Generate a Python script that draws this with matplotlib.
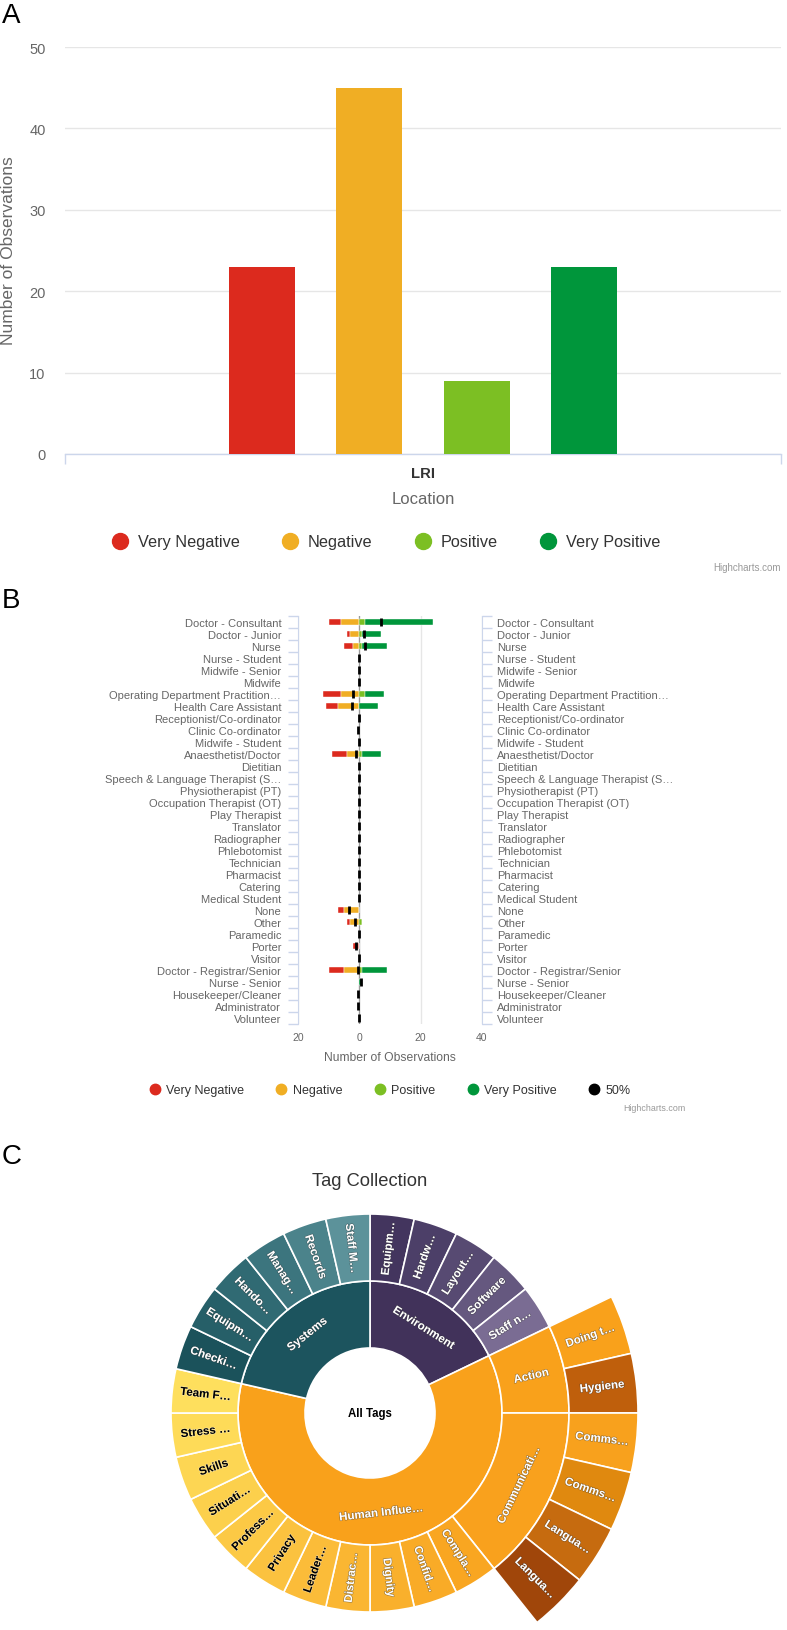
import matplotlib
matplotlib.use('Agg')
import matplotlib.pyplot as plt
import matplotlib.patheffects as pe
from matplotlib.lines import Line2D
import numpy as np

plt.rcParams['font.family'] = ['Liberation Sans', 'DejaVu Sans']

W, H = 787, 1631

# ---------------- Panel A data ----------------
a_categories = ['LRI']
a_series = ['Very Negative', 'Negative', 'Positive', 'Very Positive']
a_values = [23, 45, 9, 23]
a_yticks = [0, 10, 20, 30, 40, 50]

# ---------------- Panel B data ----------------
b_roles = ['Doctor - Consultant', 'Doctor - Junior', 'Nurse', 'Nurse - Student',
           'Midwife - Senior', 'Midwife', 'Operating Department Practition\u2026',
           'Health Care Assistant', 'Receptionist/Co-ordinator', 'Clinic Co-ordinator',
           'Midwife - Student', 'Anaesthetist/Doctor', 'Dietitian',
           'Speech & Language Therapist (S\u2026', 'Physiotherapist (PT)',
           'Occupation Therapist (OT)', 'Play Therapist', 'Translator', 'Radiographer',
           'Phlebotomist', 'Technician', 'Pharmacist', 'Catering', 'Medical Student',
           'None', 'Other', 'Paramedic', 'Porter', 'Visitor', 'Doctor - Registrar/Senior',
           'Nurse - Senior', 'Housekeeper/Cleaner', 'Administrator', 'Volunteer']
b_very_negative = [4, 1, 3, 0, 0, 0, 6, 4, 0, 0, 0, 5, 0, 0, 0, 0, 0, 0, 0, 0, 0, 0, 0, 0,
                   2, 1, 0, 2, 0, 5, 0, 0, 0, 0]
b_negative = [6, 3, 2, 0, 0, 0, 6, 7, 0, 0, 0, 4, 0, 0, 0, 0, 0, 0, 0, 0, 0, 0, 0, 0,
              5, 3, 0, 0, 0, 5, 0, 0, 0, 0]
b_positive = [2, 1, 1, 0, 0, 0, 2, 0, 0, 0, 0, 1, 0, 0, 0, 0, 0, 0, 0, 0, 0, 0, 0, 0,
              0, 1, 0, 0, 0, 1, 0, 0, 0, 0]
b_very_positive = [22, 6, 8, 0, 0, 0, 6, 6, 0, 0, 0, 6, 0, 0, 0, 0, 0, 0, 0, 0, 0, 0, 0, 0,
                   0, 0, 0, 0, 0, 8, 1, 0, 0, 0]
b_median = [7, 1.5, 2, 0, 0, 0, -2, -2.5, 0, -0.5, 0, -1, 0, 0, 0, 0, 0, 0, 0, 0, 0, 0, 0, 0,
            -3.5, -1.5, 0, -1, 0, -0.5, 0.5, -0.5, -0.5, 0]
b_xticks = [-20, 0, 20, 40]
b_xticklabels = ['20', '0', '20', '40']
b_legend = ['Very Negative', 'Negative', 'Positive', 'Very Positive', '50%']

# ---------------- Panel C data ----------------
c_root = 'All Tags'
c_groups = ['Environment', 'Human Influe\u2026', 'Systems']
c_env_leaves = ['Equipm\u2026', 'Hardw\u2026', 'Layout\u2026', 'Software', 'Staff n\u2026']
c_env_values = [1, 1, 1, 1, 1]
c_action_leaves = ['Doing t\u2026', 'Hygiene']
c_action_values = [1, 1]
c_comm_leaves = ['Comms\u2026', 'Comms\u2026', 'Langua\u2026', 'Langua\u2026']
c_comm_values = [1, 1, 1, 1]
c_human_leaves = ['Compla\u2026', 'Confid\u2026', 'Dignity', 'Distrac\u2026', 'Leader\u2026',
                  'Privacy', 'Profess\u2026', 'Situati\u2026', 'Skills', 'Stress \u2026', 'Team F\u2026']
c_human_values = [1, 1, 1, 1, 1, 1, 1, 1, 1, 1, 1]
c_sys_leaves = ['Checki\u2026', 'Equipm\u2026', 'Hando\u2026', 'Manag\u2026', 'Records', 'Staff M\u2026']
c_sys_values = [1, 1, 1, 1, 1, 1]

# ---------------- styles ----------------
series_colors = ['#dc2a1e', '#f0ae24', '#7cbf23', '#00963b']
GRID = '#e6e6e6'
AXIS = '#ccd6eb'
LBL = '#666666'

fig = plt.figure(figsize=(W / 100, H / 100), dpi=100)


def add_axes_px(l, t, r, b):
    return fig.add_axes([l / W, 1 - b / H, (r - l) / W, (b - t) / H])


def ftext(x, y, s, **kw):
    return fig.text(x / W, 1 - y / H, s, **kw)


# ======================= Panel A =======================
axA = add_axes_px(65, 48, 781, 455)
xA = np.arange(len(a_categories))
n = len(a_series)
slot, bw = 0.15, 0.092
for i, (s, v, c) in enumerate(zip(a_series, a_values, series_colors)):
    axA.bar(xA + (i - (n - 1) / 2) * slot, [v], width=bw, color=c, zorder=3, label=s)
axA.set_xlim(-0.5, 0.5)
axA.set_ylim(0, 50)
axA.set_yticks(a_yticks)
axA.yaxis.grid(True, color=GRID, lw=1)
axA.set_axisbelow(True)
for sp in ['left', 'right', 'top']:
    axA.spines[sp].set_visible(False)
axA.spines['bottom'].set_color(AXIS)
axA.spines['bottom'].set_linewidth(1)
axA.tick_params(axis='y', length=0, labelsize=10.5, labelcolor=LBL, pad=14)
axA.set_xticks([-0.5, 0.5])
axA.set_xticklabels(['', ''])
axA.tick_params(axis='x', which='major', length=7, color=AXIS, width=1)
axA.set_xticks(xA, a_categories, minor=True)
axA.tick_params(axis='x', which='minor', length=0, labelsize=10.7, labelcolor='#333333', pad=9)
for t in axA.get_xticklabels(minor=True):
    t.set_fontweight('bold')
ftext(423, 499, 'Location', ha='center', va='center', fontsize=12, color=LBL)
ftext(9, 251, 'Number of Observations', ha='center', va='center', rotation=90,
      fontsize=12.5, color=LBL)
handlesA = [Line2D([], [], marker='o', ls='none', ms=11.5, color=c) for c in series_colors]
fig.legend(handlesA, a_series, loc='center', bbox_to_anchor=(386 / W, 1 - 543 / H),
           ncol=4, frameon=False, fontsize=11.7, handlelength=1.0, handletextpad=0.6,
           columnspacing=2.6, labelcolor='#333333')
ftext(781, 568, 'Highcharts.com', ha='right', va='center', fontsize=7, color='#999999')
ftext(2, 16, 'A', ha='left', va='center', fontsize=20, color='black')

# ======================= Panel B =======================
axB = add_axes_px(298, 617, 482, 1025)
yB = np.arange(len(b_roles))
vn = np.array(b_very_negative, float)
ng = np.array(b_negative, float)
ps = np.array(b_positive, float)
vp = np.array(b_very_positive, float)
bh = 0.52
bkw = dict(height=bh, edgecolor='white', lw=0.3, zorder=3)
axB.barh(yB, vn, left=-(vn + ng), color=series_colors[0], **bkw)
axB.barh(yB, ng, left=-ng, color=series_colors[1], **bkw)
axB.barh(yB, ps, left=0, color=series_colors[2], **bkw)
axB.barh(yB, vp, left=ps, color=series_colors[3], **bkw)
axB.axvline(0, color='#999999', lw=0.9, zorder=2)
axB.plot(b_median, yB, ls='none', marker='|', ms=5.4, mew=2.0, color='black', zorder=5)
axB.set_xlim(-20, 40)
axB.set_ylim(len(b_roles) - 0.5, -0.5)
axB.set_xticks(b_xticks, b_xticklabels)
axB.xaxis.grid(True, color=GRID, lw=1)
axB.set_axisbelow(True)
axB.tick_params(axis='x', length=0, labelsize=7.5, labelcolor=LBL, pad=6)
for sp in ['top', 'bottom', 'right']:
    axB.spines[sp].set_visible(False)
axB.spines['left'].set_color(AXIS)
axB.set_yticks(yB, b_roles)
axB.set_yticks(np.arange(-0.5, len(b_roles) + 0.5, 1), minor=True)
axB.tick_params(axis='y', which='major', length=0, labelsize=8, labelcolor=LBL, pad=12)
axB.tick_params(axis='y', which='minor', length=7, color=AXIS, width=1)
axB2 = axB.twinx()
axB2.set_ylim(axB.get_ylim())
axB2.set_yticks(yB, b_roles)
axB2.set_yticks(np.arange(-0.5, len(b_roles) + 0.5, 1), minor=True)
axB2.tick_params(axis='y', which='major', length=0, labelsize=8, labelcolor=LBL, pad=11)
axB2.tick_params(axis='y', which='minor', length=7, color=AXIS, width=1)
for sp in ['top', 'bottom', 'left']:
    axB2.spines[sp].set_visible(False)
axB2.spines['right'].set_color(AXIS)
ftext(390, 1058, 'Number of Observations', ha='center', va='center', fontsize=8.7, color=LBL)
handlesB = [Line2D([], [], marker='o', ls='none', ms=7.5, color=c)
            for c in series_colors + ['#000000']]
fig.legend(handlesB, b_legend, loc='center', bbox_to_anchor=(390 / W, 1 - 1091 / H),
           ncol=5, frameon=False, fontsize=9, handlelength=0.8, handletextpad=0.5,
           columnspacing=2.6, labelcolor='#333333')
ftext(686, 1109, 'Highcharts.com', ha='right', va='center', fontsize=6.4, color='#999999')
ftext(2, 601, 'B', ha='left', va='center', fontsize=20, color='black')

# ======================= Panel C =======================
ftext(2, 1157, 'C', ha='left', va='center', fontsize=20, color='black')
ftext(370, 1182, 'Tag Collection', ha='center', va='center', fontsize=13.2, color='#333333')

cx, cy = 370, 1414
half = 280
axC = add_axes_px(cx - half, cy - half, cx + half, cy + half)
R = [65, 132, 199, 268]

env_colors = ['#43355e', '#4c3f68', '#574a72', '#65587f', '#7a6c93']
sys_colors = ['#1b525b', '#265f68', '#306a73', '#3c757e', '#4b838b', '#5c929a']
human_leaf_colors = ['#f9a621', '#f9ab27', '#f9b02c', '#fab632', '#fbbc39', '#fbc23f',
                     '#fcc945', '#fcd04c', '#fdd653', '#fedb58', '#fedf5d']
human_leaf_text = ['white'] * 4 + ['black'] * 7
action_colors = ['#f9a11b', '#bf5f0c']
comm_colors = ['#f8a11d', '#e0890f', '#c66b0f', '#a0460a']
lvl1_colors = ['#41325a', '#f9a11b', '#1c545e']
EDGE = dict(edgecolor='white', linewidth=1.2)

human_total = sum(c_action_values) + sum(c_comm_values) + sum(c_human_values)
lvl1_vals = [sum(c_env_values), human_total, sum(c_sys_values)]
w1, _ = axC.pie(lvl1_vals, radius=R[1], startangle=90, counterclock=False,
                colors=lvl1_colors, wedgeprops=dict(width=R[1] - R[0], **EDGE))

lvl2_vals = (c_env_values + [sum(c_action_values), sum(c_comm_values)] + c_human_values
             + c_sys_values)
lvl2_labels = c_env_leaves + ['Action', 'Communicati\u2026'] + c_human_leaves + c_sys_leaves
lvl2_colors = env_colors + ['#f9a11b', '#f9a11d'] + human_leaf_colors + sys_colors
lvl2_text = (['white'] * len(c_env_leaves) + ['white', 'white'] + human_leaf_text
             + ['white'] * len(c_sys_leaves))
lvl2_mode = (['radial'] * len(c_env_leaves) + ['radial', 'tangential']
             + ['radial'] * len(c_human_leaves) + ['radial'] * len(c_sys_leaves))
w2, _ = axC.pie(lvl2_vals, radius=R[2], startangle=90, counterclock=False,
                colors=lvl2_colors, wedgeprops=dict(width=R[2] - R[1], **EDGE))

lvl3_vals = ([sum(c_env_values)] + c_action_values + c_comm_values
             + [sum(c_human_values) + sum(c_sys_values)])
lvl3_colors = ['white'] + action_colors + comm_colors + ['white']
w3, _ = axC.pie(lvl3_vals, radius=R[3], startangle=90, counterclock=False,
                colors=lvl3_colors, wedgeprops=dict(width=R[3] - R[2], **EDGE))
w3[0].set_visible(False)
w3[-1].set_visible(False)
lvl3_wedges = w3[1:-1]
lvl3_labels = c_action_leaves + c_comm_leaves

axC.set_xlim(-half, half)
axC.set_ylim(-half, half)
axC.set_aspect('equal')
axC.axis('off')


def norm90(a):
    return (a + 90) % 180 - 90


def label_wedge(w, r, text, mode, color):
    phi = (w.theta1 + w.theta2) / 2
    x, y = r * np.cos(np.radians(phi)), r * np.sin(np.radians(phi))
    rot = norm90(phi - 90) if mode == 'tangential' else norm90(phi)
    outline = '#333333' if color == 'white' else '#ffffff'
    axC.text(x, y, text, rotation=rot, rotation_mode='anchor', ha='center', va='center',
             fontsize=8.3, fontweight='bold', color=color,
             path_effects=[pe.withStroke(linewidth=0.8, foreground=outline, alpha=0.5)])


for w, t in zip(w1, c_groups):
    label_wedge(w, (R[0] + R[1]) / 2 + 2, t, 'tangential', 'white')
for w, t, m, c in zip(w2, lvl2_labels, lvl2_mode, lvl2_text):
    label_wedge(w, (R[1] + R[2]) / 2, t, m, c)
for w, t in zip(lvl3_wedges, lvl3_labels):
    label_wedge(w, (R[2] + R[3]) / 2, t, 'radial', 'white')
axC.text(0, 0, c_root, ha='center', va='center', fontsize=8.3, fontweight='bold', color='black')

fig.savefig('out.png', dpi=100)
